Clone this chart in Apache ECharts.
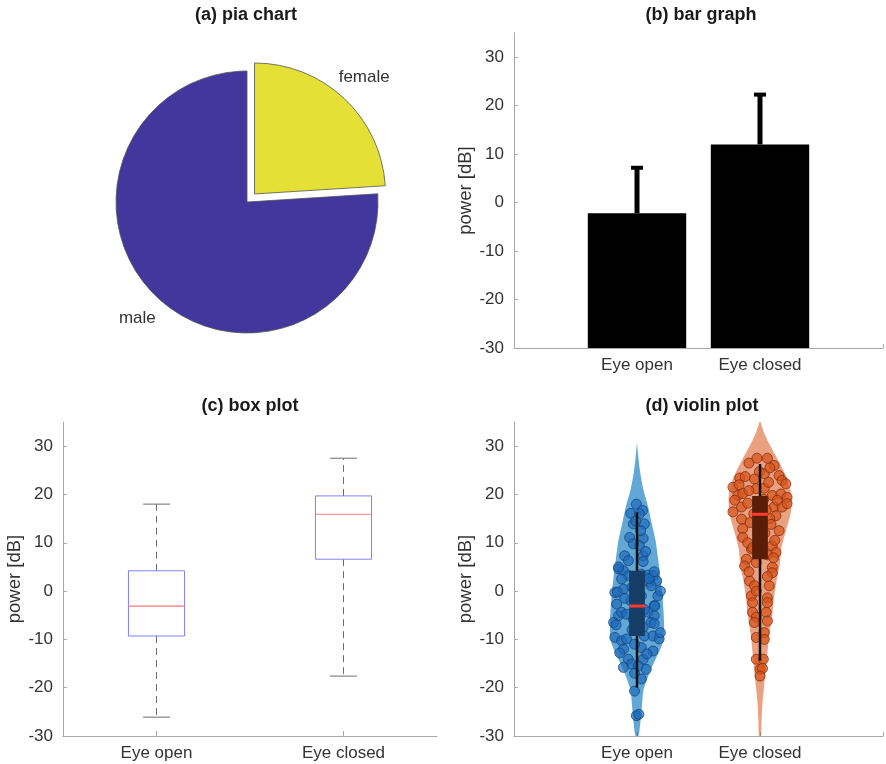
<!DOCTYPE html>
<html><head><meta charset="utf-8">
<script src="https://cdn.jsdelivr.net/npm/echarts@6/dist/echarts.min.js"></script>
<style>html,body{margin:0;padding:0;background:#fff}#c{width:886px;height:764px}</style>
</head><body><div id="c"></div>
<script>
// ---------------- data ----------------
const groups = ['Eye open', 'Eye closed'];
const pieNames = ['female', 'male'];
const pieValues = [24, 76];
const barMeans = [-2.2, 12.0];
const barErrors = [9.7, 10.6];
const boxMin = [-26.1, -17.6];
const boxQ1 = [-9.3, 6.6];
const boxMedian = [-3.1, 15.9];
const boxQ3 = [4.2, 19.7];
const boxMax = [18.0, 27.5];
const yTicks = [-30, -20, -10, 0, 10, 20, 30];
const yLimit = 35;
// violin outline: value levels and half-widths (category units)
const openLevels = [30.7, 27.5, 24.4, 20.9, 17.5, 14.0, 10.6, 7.0, 3.6, 0.0, -3.2, -6.5, -10.1, -12.0, -13.6, -17.0, -20.5, -23.9, -27.3, -30];
const openWidths = [0, 0.012, 0.027, 0.053, 0.09, 0.12, 0.15, 0.17, 0.187, 0.203, 0.213, 0.22, 0.215, 0.19, 0.16, 0.10, 0.053, 0.04, 0.027, 0.012];
const closedLevels = [35.4, 33.0, 30.6, 27.1, 23.7, 20.2, 16.8, 15.8, 12.2, 8.8, 5.4, 1.9, -1.5, -5.0, -9.4, -12.9, -16.3, -19.8, -23.2, -26.7, -30];
const closedWidths = [0, 0.03, 0.073, 0.147, 0.213, 0.253, 0.253, 0.247, 0.207, 0.173, 0.16, 0.133, 0.113, 0.10, 0.073, 0.06, 0.047, 0.033, 0.02, 0.013, 0.008];
const violinWhiskerLow = [-20.0, -14.4];
const violinWhiskerHigh = [16.3, 26.3];
const openValues = [
  18.0, 16.1, 16.7, 16.0, 13.9, 13.9, 11.1, 10.9, 9.4, 7.3,
  7.3, 6.3, 4.6, 4.2, 3.2, 2.5, 3.5, 3.3, 3.2, 1.8,
  -0.3, 0.4, 2.1, 1.1, -1.0, -2.7, -5.1, -4.4, -4.8, -4.4,
  -3.0, -5.1, -6.5, -6.5, -9.6, -10.3, -9.9, -9.3, -9.3, -9.9,
  -12.0, -11.7, -12.4, -14.1, -15.1, -14.1, -15.8, -15.5, -16.2, -18.2,
  -20.7, -25.8, -25.5, -1.0, -3.1, -0.2, 2.6, 5.0, 6.1, -6.7,
  -2.0, -7.5, -8.0, 0.8, 12.5, 14.5, -13.0, -11.0, -5.8, -3.8,
  1.5, -1.5, 9.8, -17.0, -7.0, -8.6, 4.0, 8.2, -12.8, 0.0];
const openJitter = [
  -0.005, -0.05, 0.045, 0.02, -0.03, 0.06, -0.06, 0.05, 0.02, -0.10,
  0.05, -0.07, -0.15, -0.11, -0.07, -0.125, 0.035, 0.09, 0.13, 0.10,
  -0.18, -0.11, 0.16, 0.115, 0.035, -0.165, -0.15, -0.125, -0.085, 0.09,
  0.14, 0.14, 0.115, -0.19, -0.18, -0.125, -0.085, 0.06, 0.13, 0.18,
  -0.11, 0.035, 0.13, -0.07, -0.045, 0.05, -0.11, 0.01, 0.075, 0.035,
  -0.02, -0.005, 0.015, 0.17, 0.145, -0.16, 0.10, -0.15, 0.05, 0.14,
  -0.05, 0.05, -0.04, -0.04, 0.03, -0.01, 0.08, -0.02, -0.03, 0.06,
  0.02, -0.10, -0.03, -0.02, -0.17, 0.19, 0.14, 0.07, -0.14, 0.19];
const closedValues = [
  27.5, 27.5, 26.5, 26.0, 24.7, 24.3, 23.4, 23.7, 23.2, 23.9,
  22.9, 22.2, 21.5, 19.8, 20.2, 21.2, 21.3, 19.8, 20.1, 19.4,
  18.8, 17.4, 16.4, 17.4, 17.4, 18.1, 15.6, 14.9, 12.9, 12.5,
  11.1, 8.7, 9.4, 8.0, 6.6, 5.9, 5.2, 4.9, 3.8, 2.1,
  1.1, 1.1, -1.0, -1.4, -2.4, -2.4, -4.4, -4.4, -5.4, -6.5,
  -6.2, -9.6, -8.6, -10.0, -14.1, -14.1, -16.2, -16.0, -17.6, 25.5,
  22.5, 20.8, 18.2, 16.8, 15.0, 13.8, 14.2, 10.5, 10.0, 7.5,
  6.9, 4.0, 3.0, 0.0, 18.8, 22.0, 19.0, 16.0, 12.0, 9.0];
const closedJitter = [
  -0.025, 0.06, -0.09, 0.115, -0.005, 0.035, -0.165, -0.12, -0.045, 0.155,
  0.18, 0.21, -0.22, -0.18, -0.14, -0.03, 0.035, 0.10, 0.17, 0.22,
  -0.205, -0.15, -0.22, 0.115, 0.18, 0.22, 0.13, -0.15, -0.14, 0.155,
  -0.14, -0.07, 0.10, 0.13, -0.11, -0.03, -0.125, 0.10, 0.10, -0.085,
  -0.045, 0.075, -0.07, 0.06, -0.06, 0.06, -0.06, 0.05, -0.03, -0.045,
  0.06, -0.03, 0.035, 0.035, -0.03, 0.027, 0.0, 0.02, 0.0, 0.08,
  0.07, -0.09, -0.10, 0.05, 0.08, 0.09, -0.08, 0.12, -0.10, 0.06,
  0.11, -0.09, 0.06, -0.03, 0.14, -0.17, 0.03, -0.05, 0.04, -0.06];

// ---------------- layout / style ----------------
const FONT = '"Liberation Sans", Arial, Helvetica, sans-serif';
const AXIS_COLOR = '#a8a8a8';
const TEXT_COLOR = '#333';
const pieCenter = [247, 202];
const pieRadius = 131;
const pieOffset = 11;
const pieLabelRadius = pieRadius * 1.2;

const violinLevels = [openLevels, closedLevels];
const violinWidths = [openWidths, closedWidths];
const violinFill = ['rgba(0,114,189,0.62)', 'rgba(217,83,25,0.55)'];
const violinBox = ['#153d66', '#5a1e08'];

function yAxisFor(gridIndex, gap) {
  return {
    gridIndex: gridIndex, type: 'value',
    min: yTicks[0], max: yLimit, interval: yTicks[1] - yTicks[0],
    name: 'power [dB]', nameLocation: 'middle', nameGap: gap,
    nameTextStyle: { fontSize: 18.5, color: TEXT_COLOR, fontFamily: FONT },
    axisLine: { show: true, onZero: false, lineStyle: { color: AXIS_COLOR, width: 1 } },
    axisTick: { show: true, inside: true, length: 4, lineStyle: { color: AXIS_COLOR } },
    axisLabel: { fontSize: 17, color: TEXT_COLOR, margin: 10, fontFamily: FONT, showMaxLabel: false,
      formatter: v => (yTicks.indexOf(v) >= 0 ? String(v) : '') },
    splitLine: { show: false }
  };
}
function xValueAxisFor(gridIndex) {
  return {
    gridIndex: gridIndex, type: 'value', min: 0, max: groups.length + 1, interval: 1,
    axisLine: { show: true, onZero: false, lineStyle: { color: AXIS_COLOR, width: 1 } },
    axisTick: { show: true, inside: true, length: 4, lineStyle: { color: AXIS_COLOR } },
    axisLabel: { fontSize: 17, color: TEXT_COLOR, margin: 9, fontFamily: FONT, showMinLabel: true, showMaxLabel: true,
      formatter: v => (v >= 1 && v <= groups.length && Math.round(v) === v ? groups[v - 1] : '') },
    splitLine: { show: false }
  };
}

const titleStyle = { fontSize: 18, fontWeight: 'bold', color: '#1a1a1a', fontFamily: FONT };

const option = {
  animation: false,
  backgroundColor: '#fff',
  textStyle: { fontFamily: FONT },
  title: [
    { text: '(a) pia chart', left: 246, top: 6, textAlign: 'center', padding: 0, textStyle: titleStyle },
    { text: '(b) bar graph', left: 701, top: 6, textAlign: 'center', padding: 0, textStyle: titleStyle },
    { text: '(c) box plot', left: 250, top: 397, textAlign: 'center', padding: 0, textStyle: titleStyle },
    { text: '(d) violin plot', left: 702, top: 397, textAlign: 'center', padding: 0, textStyle: titleStyle }
  ],
  grid: [
    { left: 514, top: 33, width: 374, height: 315 },
    { left: 63, top: 422, width: 374, height: 314 },
    { left: 514, top: 422, width: 374, height: 314 }
  ],
  xAxis: [
    xValueAxisFor(0),
    {
      gridIndex: 1, type: 'category', data: groups, boundaryGap: true,
      axisLine: { show: true, onZero: false, lineStyle: { color: AXIS_COLOR, width: 1 } },
      axisTick: { show: true, inside: true, length: 5, alignWithLabel: true, lineStyle: { color: AXIS_COLOR } },
      axisLabel: { fontSize: 17, color: TEXT_COLOR, margin: 9, fontFamily: FONT },
      splitLine: { show: false }
    },
    xValueAxisFor(2)
  ],
  yAxis: [yAxisFor(0, 28), yAxisFor(1, 32), yAxisFor(2, 28)],
  series: [
    {
      type: 'pie',
      center: pieCenter, radius: pieRadius,
      startAngle: 90, clockwise: true,
      selectedMode: 'single', selectedOffset: pieOffset,
      data: pieNames.map((n, i) => ({ name: n, value: pieValues[i], selected: i === 0 })),
      color: ['#e5e035', '#43369c'],
      itemStyle: { borderColor: '#555', borderWidth: 0.8 },
      label: { show: false },
      labelLine: { show: false },
      emphasis: { disabled: true }
    },
    // label-only ring so that the names sit centred at 1.2 x radius
    {
      type: 'pie', silent: true,
      center: pieCenter, radius: [pieLabelRadius - 15, pieLabelRadius + 15],
      startAngle: 90, clockwise: true,
      selectedMode: 'single', selectedOffset: pieOffset,
      data: pieNames.map((n, i) => ({ name: n, value: pieValues[i], selected: i === 0 })),
      itemStyle: { color: 'rgba(0,0,0,0)', borderWidth: 0 },
      label: { show: true, position: 'inside', rotate: 0, fontSize: 17, color: TEXT_COLOR, fontFamily: FONT },
      labelLine: { show: false },
      emphasis: { disabled: true }
    },
    // (b) bars with error bars
    {
      type: 'custom', xAxisIndex: 0, yAxisIndex: 0,
      data: groups.map((g, i) => [i + 1, barMeans[i], barErrors[i]]),
      encode: { x: 0, y: 1 },
      renderItem: function (params, api) {
        const x = api.value(0), m = api.value(1), e = api.value(2);
        const base = api.coord([x, yTicks[0]]);
        const top = api.coord([x, m]);
        const errTop = api.coord([x, m + e]);
        const hw = api.size([0.8, 0])[0] / 2;
        return {
          type: 'group', children: [
            { type: 'rect', shape: { x: base[0] - hw, y: top[1], width: 2 * hw, height: base[1] - top[1] }, style: { fill: '#000' } },
            { type: 'line', shape: { x1: top[0], y1: top[1], x2: errTop[0], y2: errTop[1] + 1 }, style: { stroke: '#000', lineWidth: 5 } },
            { type: 'line', shape: { x1: errTop[0] - 6, y1: errTop[1] + 1.5, x2: errTop[0] + 6, y2: errTop[1] + 1.5 }, style: { stroke: '#000', lineWidth: 4 } }
          ]
        };
      }
    },
    // (c) box plot
    {
      type: 'custom', xAxisIndex: 1, yAxisIndex: 1,
      data: groups.map((g, i) => [i, boxMin[i], boxQ1[i], boxMedian[i], boxQ3[i], boxMax[i]]),
      encode: { x: 0, y: [1, 5] },
      renderItem: function (params, api) {
        const c = api.value(0);
        const band = api.size([1, 0])[0];
        const hw = band * 0.15, cw = band * 0.072;
        const pMin = api.coord([c, api.value(1)]);
        const pQ1 = api.coord([c, api.value(2)]);
        const pMed = api.coord([c, api.value(3)]);
        const pQ3 = api.coord([c, api.value(4)]);
        const pMax = api.coord([c, api.value(5)]);
        const x = pMin[0];
        const wStyle = { stroke: '#6d6d6d', lineWidth: 1, lineDash: [7, 5] };
        const cStyle = { stroke: '#6d6d6d', lineWidth: 1 };
        return {
          type: 'group', children: [
            { type: 'line', shape: { x1: x, y1: pQ3[1], x2: x, y2: pMax[1] }, style: wStyle },
            { type: 'line', shape: { x1: x, y1: pQ1[1], x2: x, y2: pMin[1] }, style: wStyle },
            { type: 'line', shape: { x1: x - cw, y1: pMax[1], x2: x + cw, y2: pMax[1] }, style: cStyle },
            { type: 'line', shape: { x1: x - cw, y1: pMin[1], x2: x + cw, y2: pMin[1] }, style: cStyle },
            { type: 'rect', shape: { x: x - hw, y: pQ3[1], width: 2 * hw, height: pQ1[1] - pQ3[1] }, style: { fill: 'none', stroke: '#8080f0', lineWidth: 1 } },
            { type: 'line', shape: { x1: x - hw, y1: pMed[1], x2: x + hw, y2: pMed[1] }, style: { stroke: '#ff7a7a', lineWidth: 1.2 } }
          ]
        };
      }
    },
    // (d) violin bodies
    {
      type: 'custom', xAxisIndex: 2, yAxisIndex: 2, z: 1, clip: true,
      data: groups.map((g, i) => [i + 1, boxMedian[i]]),
      encode: { x: 0, y: 1 },
      renderItem: function (params, api) {
        const i = params.dataIndex;
        const cx = api.value(0);
        const lv = violinLevels[i], wd = violinWidths[i];
        const pts = [];
        for (let k = 0; k < lv.length; k++) pts.push(api.coord([cx + wd[k], lv[k]]));
        for (let k = lv.length - 1; k >= 0; k--) pts.push(api.coord([cx - wd[k], lv[k]]));
        return { type: 'polygon', shape: { points: pts, smooth: 0.25 }, style: { fill: violinFill[i] } };
      }
    },
    {
      type: 'scatter', xAxisIndex: 2, yAxisIndex: 2, z: 2,
      data: openValues.map((v, k) => [1 + openJitter[k], v]),
      symbolSize: 10,
      itemStyle: { color: 'rgba(30,105,185,0.85)', borderColor: '#17467e', borderWidth: 1 },
      emphasis: { disabled: true }
    },
    {
      type: 'scatter', xAxisIndex: 2, yAxisIndex: 2, z: 2,
      data: closedValues.map((v, k) => [2 + closedJitter[k], v]),
      symbolSize: 10,
      itemStyle: { color: 'rgba(215,85,28,0.9)', borderColor: '#8a2c0a', borderWidth: 1 },
      emphasis: { disabled: true }
    },
    // (d) violin inner box, whiskers, median
    {
      type: 'custom', xAxisIndex: 2, yAxisIndex: 2, z: 3,
      data: groups.map((g, i) => [i + 1, violinWhiskerLow[i], boxQ1[i], boxMedian[i], boxQ3[i], violinWhiskerHigh[i]]),
      encode: { x: 0, y: [1, 5] },
      renderItem: function (params, api) {
        const i = params.dataIndex;
        const c = api.value(0);
        const hw = api.size([0.064, 0])[0];
        const pLo = api.coord([c, api.value(1)]);
        const pQ1 = api.coord([c, api.value(2)]);
        const pMed = api.coord([c, api.value(3)]);
        const pQ3 = api.coord([c, api.value(4)]);
        const pHi = api.coord([c, api.value(5)]);
        const x = pLo[0];
        return {
          type: 'group', children: [
            { type: 'line', shape: { x1: x, y1: pHi[1], x2: x, y2: pLo[1] }, style: { stroke: '#111', lineWidth: 2.5 } },
            { type: 'rect', shape: { x: x - hw, y: pQ3[1], width: 2 * hw, height: pQ1[1] - pQ3[1] }, style: { fill: violinBox[i] } },
            { type: 'line', shape: { x1: x - hw, y1: pMed[1], x2: x + hw, y2: pMed[1] }, style: { stroke: '#ff3a2e', lineWidth: 3 } }
          ]
        };
      }
    }
  ]
};

const chart = echarts.init(document.getElementById('c'), null, { renderer: 'canvas' });
chart.setOption(option);
</script>
</body></html>
